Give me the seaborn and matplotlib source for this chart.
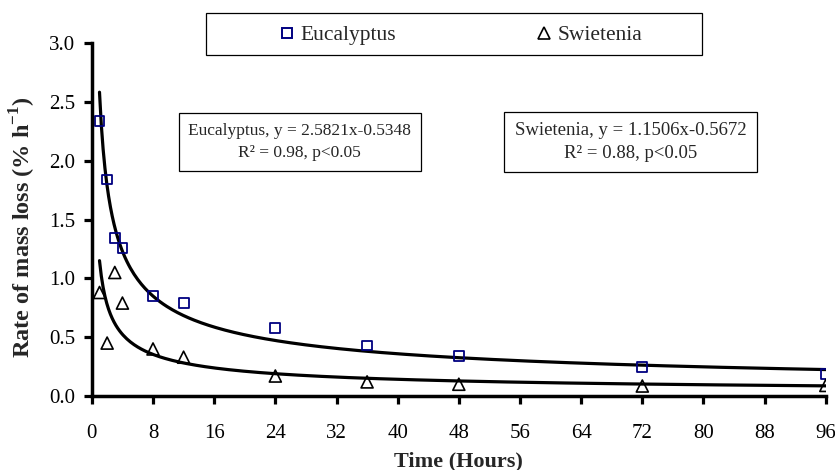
import numpy as np
import pandas as pd
import matplotlib
matplotlib.use("Agg")
import matplotlib.pyplot as plt
import seaborn as sns
from matplotlib.lines import Line2D
from matplotlib.patches import Rectangle

# ---- data ----
hours = [1, 2, 3, 4, 8, 12, 24, 36, 48, 72, 96]
eucalyptus = [2.34, 1.84, 1.34, 1.26, 0.85, 0.79, 0.58, 0.43, 0.34, 0.25, 0.19]
swietenia = [0.88, 0.45, 1.05, 0.79, 0.40, 0.33, 0.17, 0.12, 0.10, 0.085, 0.09]

# power-law fits shown in the chart: y = a * x^b
euc_a, euc_b = 2.5821, -0.5348
swi_a, swi_b = 1.1506, -0.5672

x_ticks = [0, 8, 16, 24, 32, 40, 48, 56, 64, 72, 80, 88, 96]
y_ticks = [0.0, 0.5, 1.0, 1.5, 2.0, 2.5, 3.0]

sns.set_theme(style="white")
plt.rcParams["font.family"] = ["Liberation Serif", "DejaVu Serif"]
plt.rcParams["mathtext.fontset"] = "custom"
plt.rcParams["mathtext.rm"] = "Liberation Serif"
plt.rcParams["mathtext.bf"] = "Liberation Serif:bold"

fig = plt.figure(figsize=(8.35, 4.7), dpi=100)
ax = fig.add_axes([0.110, 0.1574, 0.879, 0.751])

df = pd.DataFrame({
    "Time": hours * 2,
    "Rate": eucalyptus + swietenia,
    "Species": ["Eucalyptus"] * len(hours) + ["Swietenia"] * len(hours),
})

# fitted curves
xf = np.linspace(1, 96, 400)
fit = pd.DataFrame({
    "Time": np.concatenate([xf, xf]),
    "Rate": np.concatenate([euc_a * xf ** euc_b, swi_a * xf ** swi_b]),
    "Species": ["Eucalyptus"] * len(xf) + ["Swietenia"] * len(xf),
})
sns.lineplot(data=fit, x="Time", y="Rate", units="Species", estimator=None,
             color="black", linewidth=2.3, ax=ax, legend=False, zorder=2)

sns.scatterplot(data=df[df.Species == "Eucalyptus"], x="Time", y="Rate",
                marker="s", s=50, facecolor="none", edgecolor="#000080",
                linewidth=1.3, ax=ax, legend=False, zorder=3)
sns.scatterplot(data=df[df.Species == "Swietenia"], x="Time", y="Rate",
                marker="^", s=75, facecolor="none", edgecolor="black",
                linewidth=1.2, ax=ax, legend=False, zorder=3)

ax.set_xlim(0, 96)
ax.set_ylim(0, 3.0)
ax.set_xticks(x_ticks)
ax.set_yticks(y_ticks)
ax.set_yticklabels([f"{v:.1f}" for v in y_ticks])
ax.tick_params(axis="both", which="both", direction="out", length=6, width=2.3,
               labelsize=15, color="black", labelcolor="black",
               bottom=True, left=True)
ax.tick_params(axis="x", pad=14)
ax.tick_params(axis="y", pad=6)
for side in ["top", "right"]:
    ax.spines[side].set_visible(False)
for side in ["left", "bottom"]:
    ax.spines[side].set_color("black")
    ax.spines[side].set_linewidth(2.5)
ax.spines["left"].set_zorder(5)
ax.grid(False)

ax.set_xlabel("Time (Hours)", fontsize=16, fontweight="bold", labelpad=6)
ax.set_ylabel("Rate of mass loss (% h$^{\\mathbf{-1}}$)", fontsize=17.5,
              fontweight="bold")
ax.yaxis.set_label_coords(-0.073, 0.48)

# legend at top
handles = [
    Line2D([], [], marker="s", linestyle="none", markerfacecolor="none",
           markeredgecolor="#000080", markersize=7, markeredgewidth=1.4),
    Line2D([], [], marker="^", linestyle="none", markerfacecolor="none",
           markeredgecolor="black", markersize=8, markeredgewidth=1.2),
]
leg = fig.legend(handles, ["Eucalyptus", "Swietenia"], ncol=2,
                 loc="center", bbox_to_anchor=(0.550, 0.925),
                 frameon=False, fontsize=15.5,
                 columnspacing=6.4, handletextpad=0.1, handlelength=1.0,
                 borderaxespad=0)
fig.patches.append(Rectangle((0.2467, 0.8830), 0.5940, 0.0893,
                             transform=fig.transFigure, facecolor="none",
                             edgecolor="black", linewidth=0.9))

box = dict(boxstyle="square,pad=0.55", facecolor="white", edgecolor="black",
           linewidth=0.9)
ax.text(0.283, 0.72,
        f"Eucalyptus, y = {euc_a:.4f}x{euc_b:.4f}\nR\u00b2 = 0.98, p<0.05",
        transform=ax.transAxes, ha="center", va="center", fontsize=12.5,
        linespacing=1.55, bbox=box, zorder=6)
ax.text(0.734, 0.72,
        f"Swietenia, y = {swi_a:.4f}x{swi_b:.4f}\nR\u00b2 = 0.88, p<0.05",
        transform=ax.transAxes, ha="center", va="center", fontsize=13.5,
        linespacing=1.45, bbox=box, zorder=6)

fig.savefig("out.png", dpi=100)
